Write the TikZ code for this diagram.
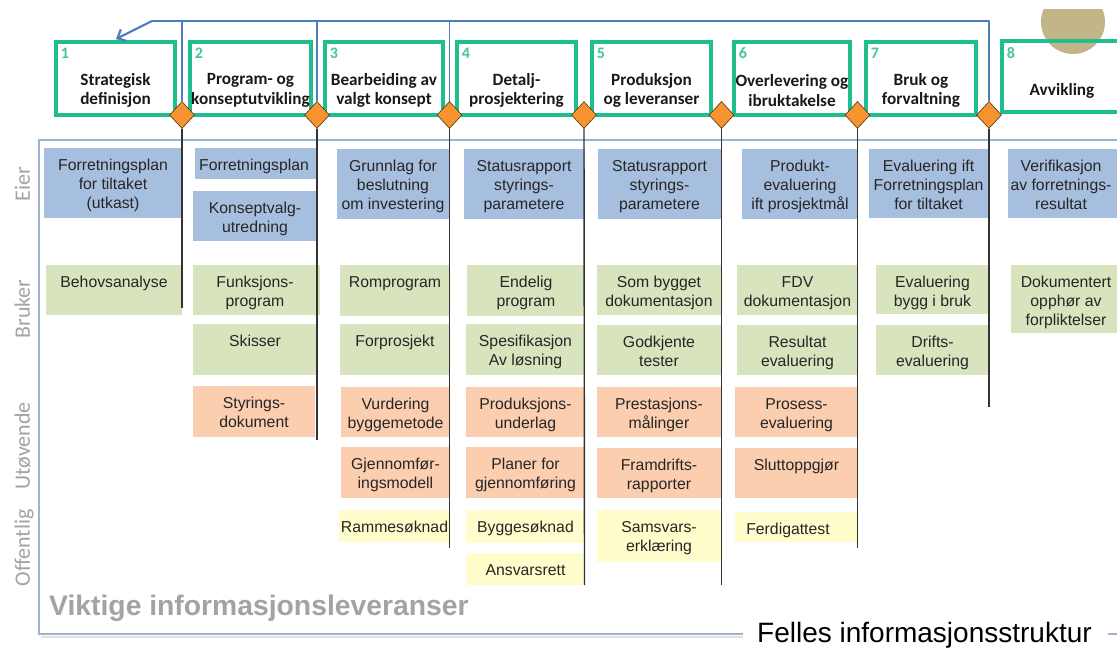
\documentclass[tikz,border=0pt]{standalone}
\usepackage{fontspec}
\newfontfamily\arialf{Liberation Sans}
\newfontfamily\calf{Carlito}
\usetikzlibrary{shapes.geometric,fit,arrows.meta}
\definecolor{cblue}{RGB}{167,191,222}
\definecolor{cgreen}{RGB}{215,228,190}
\definecolor{corange}{RGB}{251,206,176}
\definecolor{cyellow}{RGB}{254,253,203}
\definecolor{phgreen}{RGB}{31,190,141}
\definecolor{phnum}{RGB}{70,195,160}
\definecolor{dorange}{RGB}{247,148,48}
\definecolor{fbblue}{RGB}{79,124,190}
\definecolor{sidegray}{RGB}{163,163,163}
\definecolor{panelc}{RGB}{158,178,208}
\definecolor{circtan}{RGB}{196,181,136}
\definecolor{ctextc}{RGB}{38,38,38}
\tikzset{
  cbox/.style={inner sep=0pt, outer sep=0pt, draw=none},
  ctext/.style={font=\arialf\fontsize{15.8}{19}\selectfont, text=ctextc, align=center, inner sep=0pt, anchor=north},
  phasebox/.style={draw=phgreen, line width=4pt, inner sep=0pt},
  ptitle/.style={font=\calf\bfseries\fontsize{17.2}{19.5}\selectfont, text=black!90, align=center, inner sep=0pt},
  pnum/.style={font=\calf\bfseries\fontsize{16}{16}\selectfont, text=phnum, inner sep=0pt},
  gate/.style={diamond, aspect=1, fill=dorange, draw=black!60!brown, line width=0.6pt, minimum width=25pt, minimum height=27pt, inner sep=0pt},
  vline/.style={draw=black!80, line width=1.4pt},
  fb/.style={draw=fbblue, line width=1.3pt},
  side/.style={font=\calf\fontsize{22}{22}\selectfont, text=sidegray, rotate=90, anchor=base, inner sep=0pt},
  panel/.style={draw=panelc, line width=1.6pt},
}
% content box: name, colour, x1, y1, x2, y2, text centre x, text
\newcommand\cb[8]{%
  \node[cbox, fill=#2, fit={(#3,#4)(#5,#6)}] (#1) {};
  \node[ctext] (#1t) at (#7,{#4+9.4}) {\strut #8};
}
% phase box: name, x1, y1, x2, y2, title centre x, number, title
\newcommand\ph[8]{%
  \node[phasebox, fit={(#2,#3)(#4,#5)}] (#1) {};
  \node[pnum] (#1n) at ({#2+9},53) {#7};
  \node[ptitle] (#1t) at (#6,90.5) {#8};
}
\begin{document}
\begin{tikzpicture}[x=1pt,y=-1pt]
\useasboundingbox (0,0) rectangle (1117,648);
\clip (0,0) rectangle (1117,648);
\fill[white] (0,0) rectangle (1117,648);

% panel
\draw[black!12, line width=1.2pt] (41,637) -- (743,637);
\draw[panel] (743,634) -- (39,634) -- (39,140) -- (1130,140);
\draw[panel] (1108,634) -- (1130,634);

% side labels
\node[side] (eier) at (30,184) {Eier};
\node[side] (bruker) at (30,309) {Bruker};
\node[side] (utovende) at (30,446) {Utøvende};
\node[side] (offentlig) at (30,548) {Offentlig};

% circle behind phase 8
\begin{scope}
  \clip (990,9) rectangle (1117,120);
  \fill[circtan] (1073,22) circle (32pt);
\end{scope}

% phase boxes
\ph{p1}{56}{42}{175}{115}{115.5}{1}{Strategisk\\definisjon}
\ph{p2}{190}{42}{311}{115}{250.5}{2}{Program- og\\konseptutvikling}
\ph{p3}{325}{42}{443}{115}{384}{3}{Bearbeiding av\\valgt konsept}
\ph{p4}{457}{42}{576}{115}{516.5}{4}{Detalj-\\prosjektering}
\ph{p5}{592}{42}{711}{115}{651.5}{5}{Produksjon\\og leveranser}
\ph{p6}{734}{42}{850}{115}{792}{6}{Overlevering og\\ibruktakelse}
\ph{p7}{866}{42}{976}{115}{921}{7}{Bruk og\\forvaltning}
\ph{p8}{1002}{41}{1140}{112}{1062}{8}{Avvikling}

% column 1
\cb{b1a}{cblue}{44}{148}{182}{218}{113}{Forretningsplan\\for tiltaket\\(utkast)}
\cb{b1b}{cgreen}{46}{265}{182}{315}{114}{Behovsanalyse}
% column 2
\cb{b2a}{cblue}{195}{148}{317}{179}{254}{Forretningsplan}
\cb{b2b}{cblue}{193}{191}{317}{241}{255}{Konseptvalg-\\utredning}
\cb{b2c}{cgreen}{193}{265}{320}{315}{255}{Funksjons-\\program}
\cb{b2d}{cgreen}{193}{324}{317}{375}{255}{Skisser}
\cb{b2e}{corange}{193}{386}{315}{437}{254}{Styrings-\\dokument}
% column 3
\cb{b3a}{cblue}{337}{149}{450}{219}{393}{Grunnlag for\\beslutning\\om investering}
\cb{b3b}{cgreen}{340}{265}{450}{316}{395}{Romprogram}
\cb{b3c}{cgreen}{340}{324}{450}{375}{395}{Forprosjekt}
\cb{b3d}{corange}{341}{387}{450}{437}{395.5}{Vurdering\\byggemetode}
\cb{b3e}{corange}{341}{447}{450}{498}{395.5}{Gjennomfør-\\ingsmodell}
\cb{b3f}{cyellow}{339}{510}{450}{542}{394.5}{Rammesøknad}
% column 4
\cb{b4a}{cblue}{464}{149}{585}{219}{524}{Statusrapport\\styrings-\\parametere}
\cb{b4b}{cgreen}{467}{265}{585}{316}{526}{Endelig\\program}
\cb{b4c}{cgreen}{466}{324}{585}{375}{525.5}{Spesifikasjon\\Av løsning}
\cb{b4d}{corange}{466}{387}{585}{437}{525.5}{Produksjons-\\underlag}
\cb{b4e}{corange}{466}{447}{585}{498}{525.5}{Planer for\\gjennomføring}
\cb{b4f}{cyellow}{466}{510}{585}{543}{525.5}{Byggesøknad}
\cb{b4g}{cyellow}{466}{553}{585}{585}{525.5}{Ansvarsrett}
% column 5
\cb{b5a}{cblue}{598}{149}{721}{219}{659.5}{Statusrapport\\styrings-\\parametere}
\cb{b5b}{cgreen}{597}{265}{721}{315}{659}{Som bygget\\dokumentasjon}
\cb{b5c}{cgreen}{597}{325}{721}{375}{659}{Godkjente\\tester}
\cb{b5d}{corange}{597}{387}{721}{437}{659}{Prestasjons-\\målinger}
\cb{b5e}{corange}{597}{448}{721}{498}{659}{Framdrifts-\\rapporter}
\cb{b5f}{cyellow}{597}{510}{721}{562}{659}{Samsvars-\\erklæring}
% column 6
\cb{b6a}{cblue}{742}{149}{858}{219}{800}{Produkt-\\evaluering\\ift prosjektmål}
\cb{b6b}{cgreen}{737}{265}{858}{315}{797.5}{FDV\\dokumentasjon}
\cb{b6c}{cgreen}{737}{325}{858}{375}{797.5}{Resultat\\evaluering}
\cb{b6d}{corange}{735}{387}{858}{437}{796.5}{Prosess-\\evaluering}
\cb{b6e}{corange}{735}{448}{858}{498}{796.5}{Sluttoppgjør}
\cb{b6f}{cyellow}{735}{512}{857}{542}{788}{Ferdigattest}
% column 7
\cb{b7a}{cblue}{869}{149}{988}{218}{928.5}{Evaluering ift\\Forretningsplan\\for tiltaket}
\cb{b7b}{cgreen}{876}{265}{989}{314}{932.5}{Evaluering\\bygg i bruk}
\cb{b7c}{cgreen}{876}{325}{989}{375}{932.5}{Drifts-\\evaluering}
% column 8
\cb{b8a}{cblue}{1008}{149}{1120}{218}{1061}{Verifikasjon\\av forretnings-\\resultat}
\cb{b8b}{cgreen}{1011}{265}{1122}{333}{1066}{Dokumentert\\opphør av\\forpliktelser}

% gates
\node[gate] (d1) at (182,115) {};
\node[gate] (d2) at (317,115) {};
\node[gate] (d3) at (449.5,115) {};
\node[gate] (d4) at (584,115) {};
\node[gate] (d5) at (721.5,115) {};
\node[gate] (d6) at (857.5,115) {};
\node[gate] (d7) at (989,115) {};

% vertical lines below the gates
\coordinate (e1) at (182,308);
\coordinate (e2) at (317,440);
\coordinate (e3) at (449.5,548);
\coordinate (e4) at (584.5,585);
\coordinate (e5) at (721.5,585);
\coordinate (e6) at (857.5,548);
\coordinate (e7) at (989,407);
\draw[vline] (d1.south) -- (e1);
\draw[vline] (d2.south) -- (e2);
\draw[vline] (d3.south) -- (e3);
\draw[vline] (d4.south) -- (e4);
\draw[vline] (d5.south) -- (e5);
\draw[vline] (d6.south) -- (e6);
\draw[vline] (d7.south) -- (e7);

% feedback loop
\coordinate (tr) at (989,21);
\coordinate (tl) at (152,21);
\coordinate (ah) at (116,39);
\draw[fb, line join=round] (d7.north) -- (tr) -- (tl);
\draw[fb, line width=2.2pt, -{Straight Barb[length=7pt,width=13pt]}] (tl) -- (ah);
\draw[fb] (d1.north) -- (d1.north |- tl);
\draw[fb] (d2.north) -- (d2.north |- tl);
\draw[fb] (d3.north) -- (d3.north |- tl);

% bottom texts
\node[font=\arialf\bfseries\fontsize{28.3}{29}\selectfont, text=sidegray, anchor=base west, inner sep=0pt] (vik) at (49,615) {Viktige informasjonsleveranser};
\node[font=\arialf\fontsize{28}{28}\selectfont, text=black, anchor=base west, inner sep=0pt] (fel) at (757,642) {Felles informasjonsstruktur};
\end{tikzpicture}
\end{document}
